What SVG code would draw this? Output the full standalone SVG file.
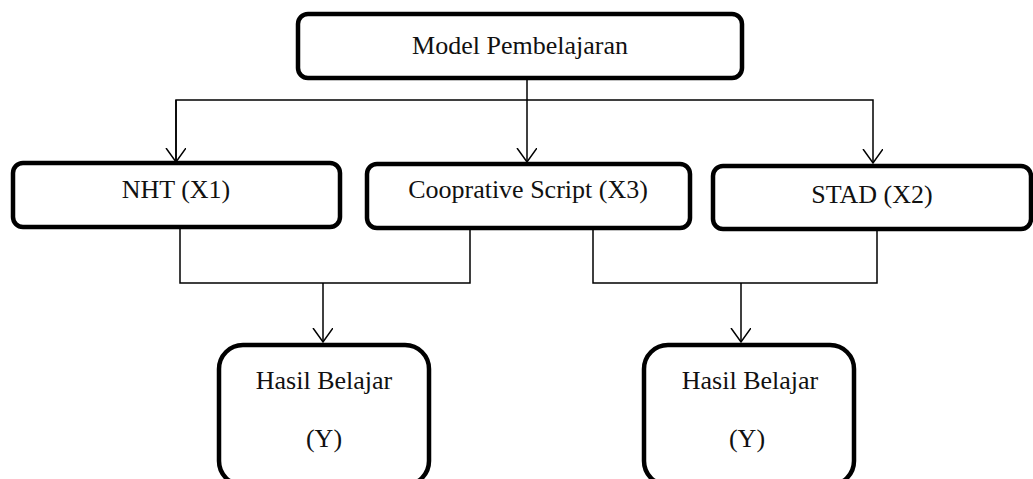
<svg xmlns="http://www.w3.org/2000/svg" width="1033" height="479" viewBox="0 0 1033 479">
<style>
.box{fill:#fff;stroke:#000;stroke-width:4.5}
.t{font-family:"Liberation Serif","Times New Roman",serif;font-size:26px;fill:#111;text-anchor:middle}
.c{fill:none;stroke:#000;stroke-width:1.5}
</style>
<defs>
<marker id="ah" markerWidth="16" markerHeight="22" refX="14" refY="10" orient="auto" markerUnits="userSpaceOnUse">
<path d="M0,0 L14,10 L0,20" fill="none" stroke="#000" stroke-width="1.5"/>
</marker>
</defs>
<g id="connectors">
<path class="c" d="M527,78 V100"/>
<path class="c" d="M176,162 V100 H873 V163" marker-end="url(#ah)"/>
<path class="c" d="M176,100 V162" marker-end="url(#ah)"/>
<path class="c" d="M527,100 V162" marker-end="url(#ah)"/>
<path class="c" d="M180,228 V283 H470 V228"/>
<path class="c" d="M323,283 V342" marker-end="url(#ah)"/>
<path class="c" d="M593,229 V283 H877 V229"/>
<path class="c" d="M741,283 V342" marker-end="url(#ah)"/>
</g>
<g id="model">
<rect class="box" x="298" y="14" width="444" height="64" rx="10"/>
<text class="t" x="520" y="54">Model Pembelajaran</text>
</g>
<g id="nht">
<rect class="box" x="13" y="163" width="327" height="64" rx="10"/>
<text class="t" x="176" y="198">NHT (X1)</text>
</g>
<g id="coop">
<rect class="box" x="367" y="164" width="323" height="64" rx="10"/>
<text class="t" x="528" y="198">Cooprative Script (X3)</text>
</g>
<g id="stad">
<rect class="box" x="713" y="166" width="318" height="63" rx="10"/>
<text class="t" x="872" y="203">STAD (X2)</text>
</g>
<g id="hasil1">
<rect class="box" x="219" y="345" width="210" height="140" rx="24"/>
<text class="t" x="324" y="389">Hasil Belajar</text>
<text class="t" x="324" y="447">(Y)</text>
</g>
<g id="hasil2">
<rect class="box" x="644" y="345" width="210" height="140" rx="24"/>
<text class="t" x="750" y="389">Hasil Belajar</text>
<text class="t" x="747" y="447">(Y)</text>
</g>
</svg>
